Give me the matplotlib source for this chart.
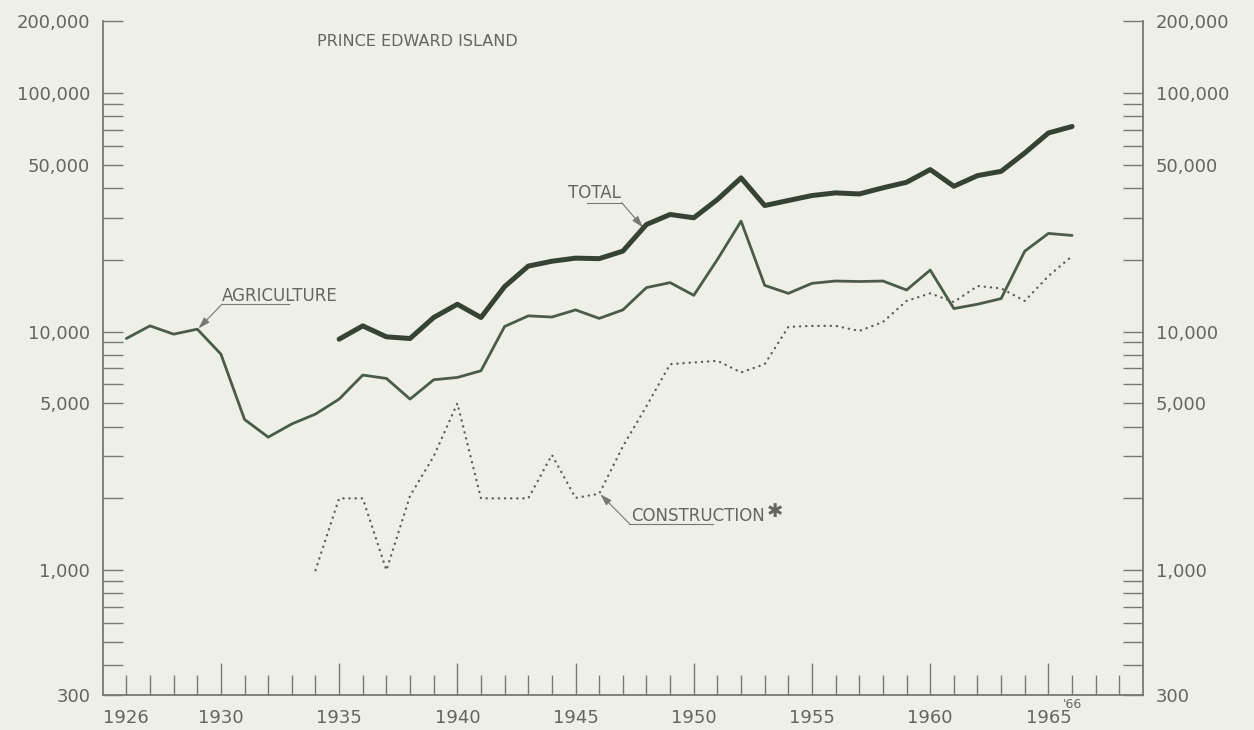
import matplotlib
matplotlib.use('Agg')
import matplotlib.pyplot as plt
from matplotlib.ticker import FixedLocator, NullFormatter
import matplotlib.transforms as mtransforms

# ---------------- data ----------------
agri_years = list(range(1926, 1967))
agriculture = [9350, 10560, 9750, 10230, 8040, 4280, 3610, 4100, 4510, 5210,
               6570, 6360, 5210, 6280, 6420, 6850, 10500, 11630, 11500, 12320,
               11350, 12320, 15280, 16030, 14180, 20040, 29000, 15610, 14450, 15920,
               16280, 16200, 16280, 14930, 18090, 12480, 13010, 13740, 21720, 25760,
               25270]

total_years = list(range(1935, 1967))
total = [9290, 10560, 9500, 9350, 11450, 13010, 11450, 15430, 18800, 19700,
         20300, 20200, 21720, 28090, 30930, 29960, 35730, 44030, 33720, 35400,
         37130, 38100, 37700, 40000, 42200, 47700, 40600, 45000, 46900, 56000,
         67900, 72300]

cons_years = list(range(1934, 1967))
construction = [1000, 2000, 2000, 1000, 2050, 3000, 5000, 2000, 2000, 2000,
                3040, 2010, 2090, 3300, 4870, 7300, 7420, 7540, 6740, 7300,
                10460, 10560, 10560, 10060, 10960, 13430, 14450, 13290, 15510, 15160,
                13430, 17080, 20700]

ytick_values = [300, 1000, 5000, 10000, 50000, 100000, 200000]
ytick_labels = ['300', '1,000', '5,000', '10,000', '50,000', '100,000', '200,000']
year_label_values = [1926, 1930, 1935, 1940, 1945, 1950, 1955, 1960, 1965]
year_labels = ['1926', '1930', '1935', '1940', '1945', '1950', '1955', '1960', '1965']

title = 'PRINCE EDWARD ISLAND'

# ---------------- style ----------------
BG = '#eef0e7'
AXC = '#767a72'
TXT = '#62665f'
TOT = '#364234'
AGR = '#4b5b49'
CON = '#5a6058'

W_PX, H_PX = 1254, 730
fig = plt.figure(figsize=(W_PX / 100, H_PX / 100), dpi=100, facecolor=BG)
left, right, top, bottom = 102.7, 1143.0, 21.0, 695.0
ax = fig.add_axes([left / W_PX, 1 - bottom / H_PX,
                   (right - left) / W_PX, (bottom - top) / H_PX], facecolor=BG)

ax.set_yscale('log')
ax.set_xlim(1925, 1969)
ax.set_ylim(300, 200000)

for s in ['left', 'right', 'bottom']:
    ax.spines[s].set_color(AXC)
    ax.spines[s].set_linewidth(1.3)
ax.spines['top'].set_visible(False)

# y ticks
minor_y = [m * d for d in (100, 1000, 10000) for m in range(2, 10)
           if m * d >= 300 and m * d not in ytick_values]
ax.yaxis.set_major_locator(FixedLocator(ytick_values))
ax.yaxis.set_minor_locator(FixedLocator(minor_y))
ax.yaxis.set_minor_formatter(NullFormatter())
ax.set_yticklabels(ytick_labels)
ax.tick_params(axis='y', which='both', direction='in', length=14.5, width=1.0,
               color=AXC, left=True, right=True, labelleft=True, labelright=True,
               pad=9, labelsize=13, labelcolor=TXT)

# x ticks
ax.xaxis.set_major_locator(FixedLocator(list(range(1930, 1966, 5))))
ax.xaxis.set_minor_locator(FixedLocator(list(range(1926, 1969))))
ax.xaxis.set_minor_formatter(NullFormatter())
ax.tick_params(axis='x', which='major', direction='in', length=23, width=1.0,
               color=AXC, labelbottom=False, top=False)
ax.tick_params(axis='x', which='minor', direction='in', length=14.5, width=1.0,
               color=AXC, labelbottom=False, top=False)

trans = mtransforms.blended_transform_factory(ax.transData, ax.transAxes)
for xv, lab in zip(year_label_values, year_labels):
    ax.text(xv, -0.034, lab, transform=trans, ha='center', va='center',
            fontsize=13, color=TXT, clip_on=False)
ax.text(1966, -0.014, "'66", transform=trans, ha='center', va='center',
        fontsize=9, color=TXT, clip_on=False)

# ---------------- series ----------------
ax.plot(agri_years, agriculture, color=AGR, lw=2.0, solid_joinstyle='round',
        solid_capstyle='round', zorder=3)
ax.plot(total_years, total, color=TOT, lw=3.6, solid_joinstyle='round',
        solid_capstyle='round', zorder=4)
ax.plot(cons_years, construction, color=CON, lw=1.7, linestyle=(0, (0.1, 2.5)),
        dash_capstyle='round', zorder=3)

# ---------------- annotations ----------------
fig.text(417 / W_PX, 1 - 42 / H_PX, title, ha='center', va='center',
         fontsize=11.5, color=TXT)

lead = dict(color=AXC, lw=0.8)
arrow = dict(arrowstyle='-|>,head_length=0.7,head_width=0.22', color=AXC, lw=0.8,
             shrinkA=0, shrinkB=0)

# TOTAL
ax.text(1944.7, 38200, 'TOTAL', ha='left', va='center', fontsize=12, color=TXT)
ax.plot([1945.5, 1946.95], [34700, 34700], **lead)
ax.annotate('', xy=(1947.85, 27300), xytext=(1946.95, 34700), arrowprops=arrow)

# AGRICULTURE
ax.text(1930.04, 14090, 'AGRICULTURE', ha='left', va='center', fontsize=12, color=TXT)
ax.plot([1930.04, 1932.9], [13000, 13000], **lead)
ax.annotate('', xy=(1929.05, 10300), xytext=(1930.04, 13000), arrowprops=arrow)

# CONSTRUCTION
ax.text(1947.36, 1692, 'CONSTRUCTION', ha='left', va='center', fontsize=12, color=TXT)
ax.text(1953.45, 1770, '\u2731', ha='center', va='center', fontsize=14, color=TXT)
ax.plot([1947.28, 1950.8], [1566, 1566], **lead)
ax.annotate('', xy=(1946.05, 2080), xytext=(1947.28, 1566), arrowprops=arrow)

fig.savefig('out.png', dpi=100, facecolor=BG)
